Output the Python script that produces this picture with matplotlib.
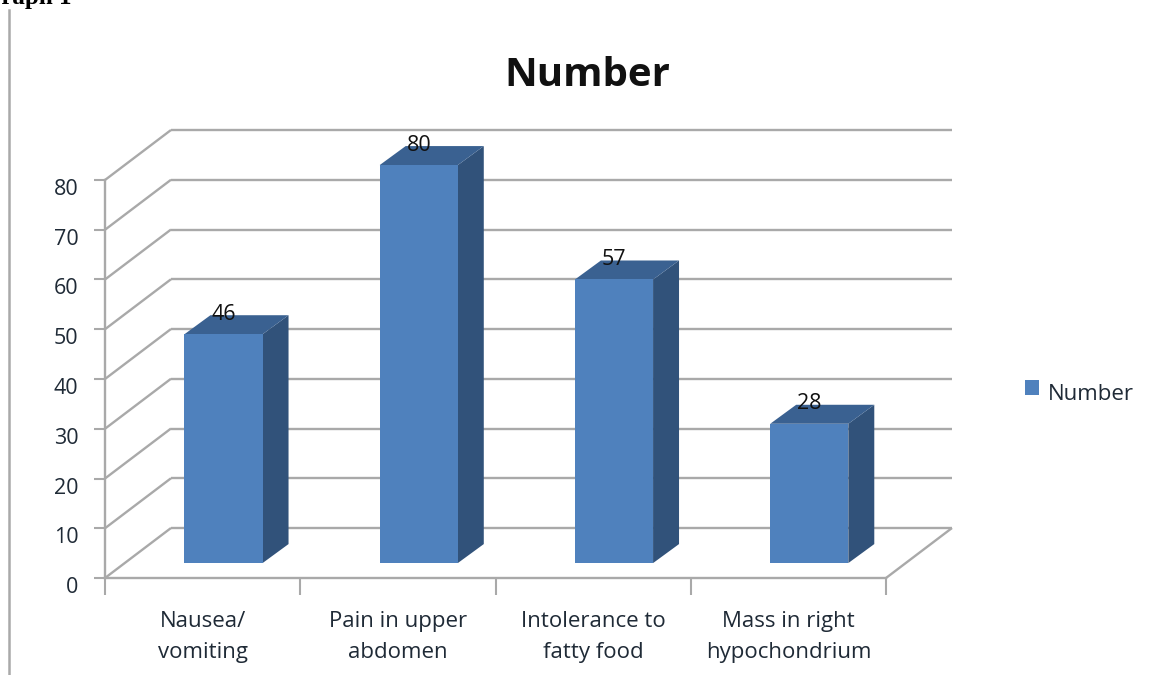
import matplotlib
matplotlib.use("Agg")
import matplotlib.pyplot as plt
from matplotlib.patches import Polygon, Patch
from matplotlib.lines import Line2D
from matplotlib.transforms import ScaledTranslation

categories = ["Nausea/\nvomiting", "Pain in upper\nabdomen", "Intolerance to\nfatty food", "Mass in right\nhypochondrium"]
values = [46, 80, 57, 28]
y_ticks = [0, 10, 20, 30, 40, 50, 60, 70, 80]

FRONT = "#4F81BD"
SIDE = "#31527A"
TOP = "#3A6191"
GRID = "#A9A9A9"
TEXT = "#1F2A36"

W, H = 1153, 675
plt.rcParams["font.family"] = ["Open Sans", "DejaVu Sans"]

fig = plt.figure(figsize=(W / 100, H / 100), dpi=100)
ax = fig.add_axes([105 / W, 1 - 578 / H, 781 / W, 398 / H])
ax.set_xlim(0, 4)
ax.set_ylim(0, 80)
ax.patch.set_visible(False)

# depth of the box and of the bars, in data units
wall_dx, wall_dy = 0.338, 10.05
bar_dx, bar_dy = 0.133, 3.82
floor_dx, floor_dy = 0.107, 3.0
bar_w = 0.4


def seg(xs, ys, z=1):
    ax.add_line(Line2D(xs, ys, color=GRID, lw=1.7, zorder=z, clip_on=False, solid_capstyle="butt"))


# back wall lines and left side wall lines
for v in y_ticks:
    seg([wall_dx, 4 + wall_dx], [v + wall_dy, v + wall_dy])
    seg([0, wall_dx], [v, v + wall_dy])
# floor
seg([4, 4 + wall_dx], [0, wall_dy])

for i, v in enumerate(values):
    x0 = i + 0.5 - bar_w / 2 + floor_dx
    x1 = x0 + bar_w
    y0 = floor_dy
    y1 = floor_dy + v
    ax.add_patch(Polygon([(x1, y0), (x1 + bar_dx, y0 + bar_dy), (x1 + bar_dx, y1 + bar_dy), (x1, y1)],
                         facecolor=SIDE, edgecolor="none", zorder=3, clip_on=False))
    ax.add_patch(Polygon([(x0, y1), (x0 + bar_dx, y1 + bar_dy), (x1 + bar_dx, y1 + bar_dy), (x1, y1)],
                         facecolor=TOP, edgecolor="none", zorder=3, clip_on=False))
    ax.add_patch(Polygon([(x0, y0), (x1, y0), (x1, y1), (x0, y1)],
                         facecolor=FRONT, edgecolor="none", zorder=4, clip_on=False))
    ax.text(x0 + bar_w / 2, y1 + 4.0, str(v), ha="center", va="center", fontsize=15.5, color="#111111", zorder=5)

for s in ("top", "right"):
    ax.spines[s].set_visible(False)
for s in ("left", "bottom"):
    ax.spines[s].set_color(GRID)
    ax.spines[s].set_linewidth(1.7)

ax.set_yticks(y_ticks)
ax.tick_params(axis="y", length=8, width=1.5, color=GRID, labelsize=15.5, labelcolor=TEXT, pad=11)
# value labels sit a little below their ticks
for lab in ax.get_yticklabels():
    lab.set_transform(lab.get_transform() + ScaledTranslation(0, -7 / 72 * 0.72, fig.dpi_scale_trans))

ax.set_xticks([0, 1, 2, 3, 4])
ax.set_xticklabels([])
ax.set_xticks([0.5, 1.5, 2.5, 3.5], labels=categories, minor=True)
ax.tick_params(axis="x", which="major", length=12, width=1.5, color=GRID)
ax.tick_params(axis="x", which="minor", length=0, labelsize=16, labelcolor=TEXT, pad=24)
for lab in ax.get_xticklabels(minor=True):
    lab.set_linespacing(1.6)

fig.text(587 / W, 1 - 76 / H, "Number", ha="center", va="center", fontsize=29, fontweight="bold", color="#111111")

leg = ax.legend(handles=[Patch(facecolor=FRONT, label="Number")], loc="center left",
                bbox_to_anchor=(1025 / W, 1 - 394 / H), bbox_transform=fig.transFigure,
                frameon=False, fontsize=16, handlelength=0.63, handleheight=0.63, handletextpad=0.4,
                labelcolor=TEXT, borderpad=0, borderaxespad=0)
leg.get_patches()[0].set_y(3.5)

# rule at the left edge of the page and the caption running off the top
fig.add_artist(Line2D([9 / W, 9 / W], [0, 1 - 10 / H], color=GRID, lw=1.8))
fig.text(72 / W, 1 - 4 / H, "Graph 1", ha="right", va="baseline", fontsize=18,
         fontweight="bold", family="Liberation Serif", color="black")

fig.savefig("out.png", dpi=100)
